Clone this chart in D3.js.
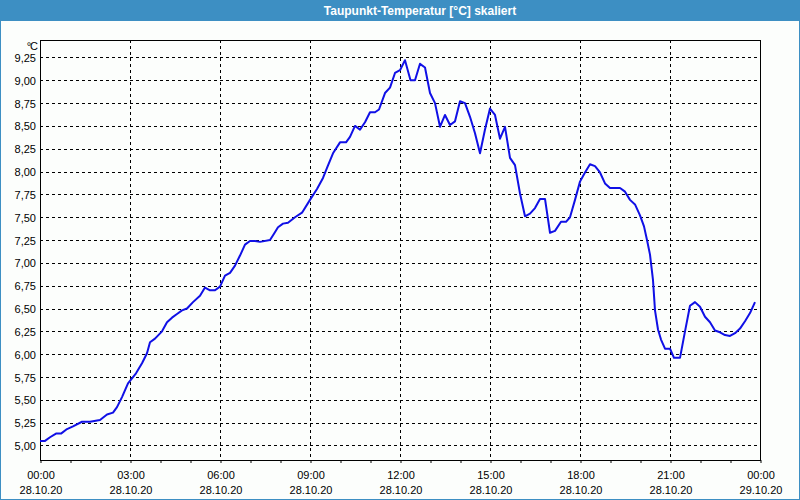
<!DOCTYPE html>
<html>
<head>
<meta charset="utf-8">
<script src="https://cdn.jsdelivr.net/npm/d3@7"></script>
<style>
  html, body { margin: 0; padding: 0; background: #fcfefc; }
  svg { display: block; }
</style>
</head>
<body>
<svg id="chart" width="800" height="500"></svg>
<script>
// minutes after 00:00 on 28.10.20
const minutes = [
  0, 10, 20, 32, 42, 54, 66, 84, 100, 120,
  134, 146, 154, 164, 176, 192, 204, 214, 220, 230,
  244, 254, 264, 274, 284, 294, 306, 320, 330, 340,
  350, 360, 370, 380, 390, 400, 410, 420, 430, 440,
  460, 468, 476, 486, 496, 510, 524, 540, 554, 566,
  574, 586, 600, 612, 620, 630, 640, 650, 660, 670,
  678, 690, 700, 710, 720, 730, 741, 750, 760, 770,
  780, 790, 800, 810, 820, 830, 840, 850, 860, 870,
  880, 890, 900, 910, 920, 930, 940, 950, 960, 970,
  980, 990, 1000, 1010, 1020, 1030, 1042, 1052, 1060, 1070,
  1080, 1090, 1100, 1110, 1120, 1130, 1140, 1150, 1160, 1170,
  1180, 1190, 1200, 1208, 1214, 1220, 1226, 1230, 1236, 1242,
  1250, 1260, 1268, 1280, 1290, 1300, 1310, 1320, 1330, 1340,
  1350, 1360, 1370, 1380, 1390, 1400, 1410, 1420, 1430
];
const dewPoint = [
  5.05, 5.05, 5.09, 5.13, 5.13, 5.18, 5.21, 5.26, 5.26, 5.28,
  5.34, 5.36, 5.42, 5.53, 5.68, 5.79, 5.90, 6.01, 6.13, 6.17,
  6.25, 6.35, 6.40, 6.44, 6.48, 6.50, 6.57, 6.64, 6.73, 6.70,
  6.70, 6.74, 6.86, 6.89, 6.97, 7.08, 7.20, 7.24, 7.24, 7.23,
  7.25, 7.32, 7.39, 7.43, 7.44, 7.50, 7.55, 7.69, 7.81, 7.93,
  8.04, 8.20, 8.32, 8.32, 8.38, 8.50, 8.46, 8.54, 8.65, 8.65,
  8.68, 8.86, 8.92, 9.08, 9.11, 9.22, 9.00, 9.00, 9.18, 9.14,
  8.86, 8.75, 8.49, 8.62, 8.51, 8.55, 8.77, 8.75, 8.60, 8.42,
  8.20, 8.46, 8.69, 8.62, 8.36, 8.49, 8.15, 8.07, 7.76, 7.51,
  7.54, 7.60, 7.70, 7.70, 7.33, 7.35, 7.45, 7.45, 7.50, 7.69,
  7.89, 7.99, 8.08, 8.06, 7.99, 7.87, 7.82, 7.82, 7.82, 7.78,
  7.69, 7.64, 7.52, 7.40, 7.25, 7.09, 6.81, 6.48, 6.27, 6.16,
  6.06, 6.06, 5.96, 5.96, 6.25, 6.53, 6.57, 6.52, 6.41, 6.35,
  6.26, 6.24, 6.21, 6.20, 6.23, 6.28, 6.36, 6.45, 6.57
];
const yTicks = [5.00, 5.25, 5.50, 5.75, 6.00, 6.25, 6.50, 6.75, 7.00, 7.25, 7.50, 7.75, 8.00, 8.25, 8.50, 8.75, 9.00, 9.25];
const xTickTimes = ['00:00', '03:00', '06:00', '09:00', '12:00', '15:00', '18:00', '21:00', '00:00'];
const xTickDates = ['28.10.20', '28.10.20', '28.10.20', '28.10.20', '28.10.20', '28.10.20', '28.10.20', '28.10.20', '29.10.20'];
const title = 'Taupunkt-Temperatur [°C] skaliert';
const unit = '°C';

const svg = d3.select('#chart');
const width = +svg.attr('width');
const height = +svg.attr('height');
const titleBlue = '#3d8fc3';
const lineBlue = '#1010e6';
const font = '"Liberation Sans", Arial, sans-serif';

const plotLeft = 40, plotRight = 760, plotTop = 40, plotBottom = 460;

const x = d3.scaleLinear().domain([0, 1440]).range([plotLeft, plotRight]);
const y = d3.scaleLinear().domain([4.841, 9.441]).range([plotBottom, plotTop]);

// window frame and title bar
svg.append('rect')
  .attr('x', 0.5).attr('y', 0.5)
  .attr('width', width - 1).attr('height', height - 1)
  .attr('fill', '#fcfefc')
  .attr('stroke', titleBlue);
svg.append('rect')
  .attr('x', 0).attr('y', 0)
  .attr('width', width).attr('height', 21)
  .attr('fill', titleBlue);
svg.append('text')
  .attr('x', 420).attr('y', 14.5)
  .attr('text-anchor', 'middle')
  .attr('fill', '#ffffff')
  .style('font-family', font)
  .style('font-weight', 'bold')
  .style('font-size', '12px')
  .text(title);

// grid
const grid = svg.append('g')
  .attr('stroke', '#000')
  .attr('stroke-width', 1)
  .attr('stroke-dasharray', '3,3');

grid.selectAll('.hgrid')
  .data(yTicks)
  .enter()
  .append('line')
  .attr('x1', plotLeft).attr('x2', plotRight)
  .attr('y1', (d) => Math.round(y(d)) + 0.5)
  .attr('y2', (d) => Math.round(y(d)) + 0.5);

grid.selectAll('.vgrid')
  .data(d3.range(180, 1440, 180))
  .enter()
  .append('line')
  .attr('y1', plotTop).attr('y2', plotBottom)
  .attr('x1', (d) => Math.round(x(d)) + 0.5)
  .attr('x2', (d) => Math.round(x(d)) + 0.5);

// y axis labels
const yAxis = d3.axisLeft(y)
  .tickValues(yTicks)
  .tickSize(0)
  .tickPadding(4)
  .tickFormat((d) => d3.format('.2f')(d).replace('.', ','));

const yAxisG = svg.append('g')
  .attr('transform', 'translate(' + plotLeft + ',0.5)')
  .call(yAxis);
yAxisG.select('.domain').remove();
yAxisG.selectAll('text')
  .style('font-family', font)
  .style('font-size', '11px')
  .attr('fill', '#000');

svg.append('text')
  .attr('x', 37).attr('y', 50)
  .attr('text-anchor', 'end')
  .style('font-family', font)
  .style('font-size', '11px')
  .attr('letter-spacing', '-1')
  .text(unit);

// x axis: hourly ticks, labels every 3 h
const xAxis = d3.axisBottom(x)
  .tickValues(d3.range(0, 1441, 60))
  .tickSize(3)
  .tickFormat('');

const xAxisG = svg.append('g')
  .attr('transform', 'translate(0.5,' + plotBottom + ')')
  .call(xAxis);
xAxisG.select('.domain').remove();

const xLabels = svg.append('g')
  .style('font-family', font)
  .style('font-size', '11px')
  .attr('text-anchor', 'middle');

xLabels.selectAll('.time')
  .data(xTickTimes)
  .enter()
  .append('text')
  .attr('x', (d, i) => x(i * 180) + 1)
  .attr('y', 479)
  .text((d) => d);

xLabels.selectAll('.date')
  .data(xTickDates)
  .enter()
  .append('text')
  .attr('x', (d, i) => x(i * 180) + 1)
  .attr('y', 494)
  .text((d) => d);

// plot frame
svg.append('rect')
  .attr('x', plotLeft + 0.5).attr('y', plotTop + 0.5)
  .attr('width', plotRight - plotLeft).attr('height', plotBottom - plotTop)
  .attr('fill', 'none')
  .attr('stroke', '#000');

// dew point line
const line = d3.line()
  .x((d, i) => x(minutes[i]))
  .y((d) => y(d));

svg.append('path')
  .datum(dewPoint)
  .attr('d', line)
  .attr('fill', 'none')
  .attr('stroke', lineBlue)
  .attr('stroke-width', 2)
  .attr('stroke-linejoin', 'round');
</script>
</body>
</html>
